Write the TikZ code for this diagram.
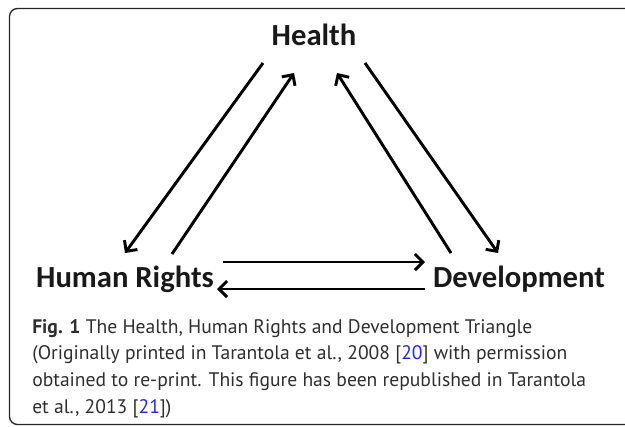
\documentclass[tikz,border=0pt]{standalone}
\usepackage{fontspec}
\setmainfont{PT Sans}
\newfontfamily\termfont{Carlito}
\usetikzlibrary{arrows.meta}
\definecolor{refblue}{RGB}{30,40,230}
\begin{document}
\begin{tikzpicture}[x=0.75pt, y=-0.75pt]
    \tikzstyle{term} = [font=\termfont\bfseries\fontsize{23}{26}\selectfont, text=black!90, inner sep=0pt, anchor=base]
    \tikzstyle{line} = [draw, line width=2.2pt, -{Straight Barb[length=6pt, width=12pt]}]
    \tikzstyle{frame} = [draw=black!85, line width=1pt, rounded corners=6pt]

    \useasboundingbox (0,0) rectangle (625,426);
    \begin{scope}
        \clip (0,0) rectangle (625,426);
        \draw [frame] (9.5,8.5) rectangle (660,424.5);
    \end{scope}

    \node [term] (health) at (314,45) {Health};
    \node [term] (rights) at (125,287) {Human Rights};
    \node [term] (dev) at (519,287) {Development};

    % arrow ends
    \coordinate (hl) at (263,63);
    \coordinate (rl) at (125,253);
    \coordinate (rr) at (172,254);
    \coordinate (hr) at (294,73);
    \coordinate (dl) at (451,253);
    \coordinate (hd) at (337,73);
    \coordinate (ho) at (365,63);
    \coordinate (dr) at (498,253);
    \coordinate (rt) at (223,262);
    \coordinate (dt) at (425,262);
    \coordinate (db) at (425,289);
    \coordinate (rb) at (217,289);

    \draw [line] (hl) -- (rl);
    \draw [line] (rr) -- (hr);
    \draw [line] (dl) -- (hd);
    \draw [line] (ho) -- (dr);
    \draw [line] (rt) -- (dt);
    \draw [line] (db) -- (rb);

    % caption, base is its last line
    \node [anchor=base west, align=left, inner sep=0pt, text=black!82,
           font=\fontsize{14.7}{20}\selectfont] (caption) at (32,413)
        {\textbf{Fig. 1} The Health, Human Rights and Development Triangle\\
         (Originally printed in Tarantola et al., 2008 [\textcolor{refblue}{20}] with permission\\
         obtained to re-print. This figure has been republished in Tarantola\\
         et al., 2013 [\textcolor{refblue}{21}])};
\end{tikzpicture}
\end{document}
